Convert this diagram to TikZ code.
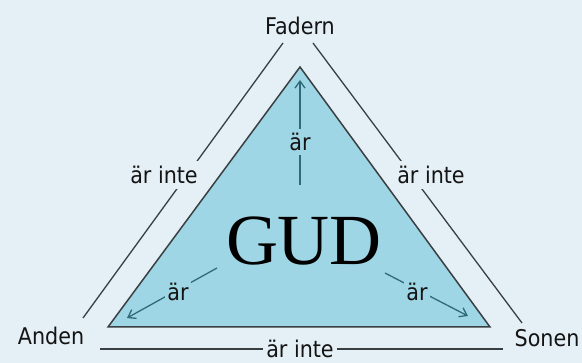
\documentclass[tikz,border=0pt]{standalone}
\usepackage{fontspec}
\setmainfont{Liberation Serif}
\newfontfamily\labfont{DejaVu Sans Condensed}
\usetikzlibrary{arrows.meta}
\definecolor{bgc}{HTML}{E4F0F6}
\definecolor{fillc}{HTML}{9FD6E5}
\definecolor{linec}{HTML}{3A3F42}
\definecolor{arrc}{HTML}{2F6A7A}
\tikzset{
  lab/.style={font=\labfont\fontsize{23}{26}\selectfont, text=black!92, inner sep=0pt},
  labbg/.style={lab, fill=bgc, inner xsep=3pt, inner ysep=5pt},
  labin/.style={lab, fill=fillc, inner xsep=2pt, inner ysep=4pt},
  outerline/.style={draw=linec, line width=1.3pt},
  arr/.style={draw=arrc, line width=1.3pt, -{Straight Barb[length=7pt,width=10pt]}},
}
\begin{document}
\begin{tikzpicture}[x=1pt,y=-1pt]
\useasboundingbox (0,0) rectangle (582,363);
\fill[bgc] (0,0) rectangle (582,363);
% inner triangle
\coordinate (apex) at (300,67);
\coordinate (bl) at (108,327);
\coordinate (br) at (490,327);
\filldraw[fill=fillc, draw=linec, line width=1.5pt, line join=miter] (apex) -- (br) -- (bl) -- cycle;
% outer lines
\coordinate (lt) at (283,43);
\coordinate (lb) at (83,318);
\coordinate (rt) at (313,43);
\coordinate (rb) at (522,323);
\coordinate (bL) at (100,349);
\coordinate (bR) at (503,349);
\draw[outerline] (lt) -- (lb);
\draw[outerline] (rt) -- (rb);
\draw[outerline] (bL) -- (bR);
\node[labbg] (il) at (164,175) {är inte};
\node[labbg] (ir) at (431,175) {är inte};
\node[labbg] (ib) at (300,349) {är inte};
% corner labels
\node[lab] (fad) at (300,26) {Fadern};
\node[lab] (and) at (51,336) {Anden};
\node[lab] (son) at (547,338) {Sonen};
% arrows
\coordinate (vs) at (300,185);
\coordinate (ve) at (300,80);
\coordinate (ls) at (217,268);
\coordinate (le) at (127,318);
\coordinate (rs) at (385,273);
\coordinate (re) at (468,316);
\draw[arr] (vs) -- (ve);
\draw[arr] (ls) -- (le);
\draw[arr] (rs) -- (re);
\node[labin] (av) at (300,142) {är};
\node[labin] (al) at (178,292) {är};
\node[labin] (ar) at (417,292) {är};
% GUD
\node[font=\fontsize{72}{72}\selectfont, inner sep=0pt, anchor=base] (gud) at (304,265) {GUD};
\end{tikzpicture}
\end{document}
